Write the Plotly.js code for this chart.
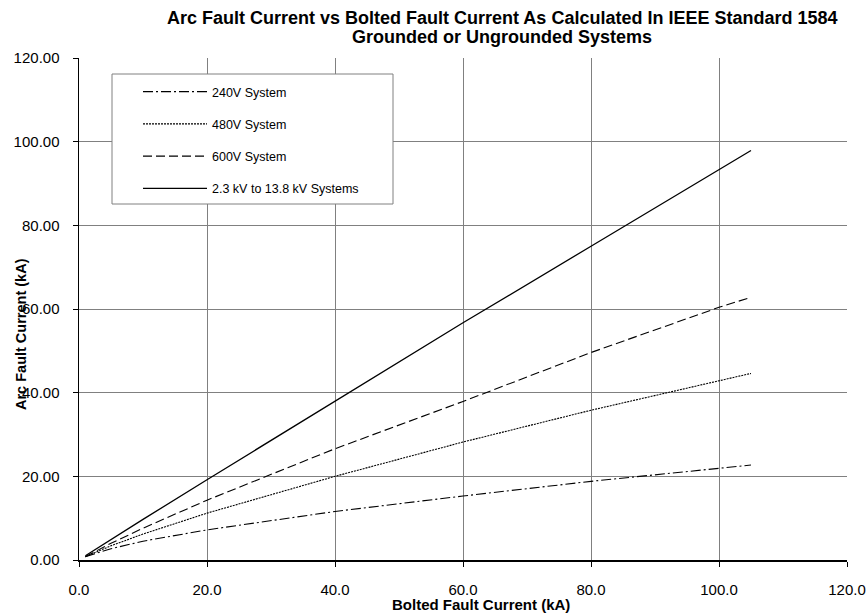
<!DOCTYPE html>
<html>
<head>
<meta charset="utf-8">
<script src="https://cdn.plot.ly/plotly-3.0.1.min.js"></script>
<style>html,body{margin:0;padding:0;background:#fff;}#chart{width:868px;height:613px;}</style>
</head>
<body>
<div id="chart"></div>
<script>
// Bolted fault current (kA)
const boltedKA = [1, 5, 10, 20, 40, 60, 80, 100, 105];
// Arc fault current (kA)
const arc240V = [0.8, 2.7, 4.5, 7.2, 11.6, 15.3, 18.8, 21.9, 22.7];
const arc480V = [0.8, 3.4, 6.2, 11.2, 20.0, 28.2, 35.8, 42.8, 44.6];
const arc600V = [0.8, 4.0, 7.6, 14.3, 26.6, 37.9, 49.6, 60.4, 62.8];
const arcHV   = [1.0, 4.9, 9.7, 19.2, 37.9, 56.7, 75.0, 93.3, 97.9];
const seriesNames = ['240V System', '480V System', '600V System', '2.3 kV to 13.8 kV Systems'];
const xTicks = [0, 20, 40, 60, 80, 100, 120];
const yTicks = [0, 20, 40, 60, 80, 100, 120];
const titleLines = ['Arc Fault Current vs Bolted Fault Current As Calculated In IEEE Standard 1584',
                    'Grounded or Ungrounded Systems'];
const xTitle = 'Bolted Fault Current (kA)';
const yTitle = 'Arc Fault Current (kA)';

const FONT = 'Liberation Sans, Arial, sans-serif';
const dashes = ['10px,3px,2px,3px', '2px,1px', '9px,4px', 'solid'];
const widths = [1.1, 1.1, 1.1, 1.3];
const ys = [arc240V, arc480V, arc600V, arcHV];

const traces = ys.map((y, i) => ({
  type: 'scatter', mode: 'lines', x: boltedKA, y: y, name: seriesNames[i],
  legendgroup: 'g' + i,
  line: {color: '#000', width: widths[i], dash: dashes[i]},
  hoverinfo: 'skip'
}));

// pixel -> paper helpers (plot area: x 79..847, y 58..560)
const px = v => (v - 79) / 768;
const py = v => (560 - v) / 502;

const layout = {
  width: 868, height: 613,
  margin: {l: 79, r: 21, t: 58, b: 53},
  paper_bgcolor: '#fff', plot_bgcolor: '#fff',
  font: {family: FONT, color: '#000', size: 15},
  xaxis: {
    range: [0, 120], tickvals: xTicks, tickformat: '.1f',
    showgrid: true, gridcolor: '#808080', gridwidth: 1,
    showline: true, linecolor: '#000', linewidth: 1.5,
    ticks: 'outside', ticklen: 5, tickcolor: '#000',
    ticklabelstandoff: 10,
    zeroline: false, tickfont: {size: 15, family: FONT}
  },
  yaxis: {
    range: [0, 120], tickvals: yTicks, tickformat: '.2f',
    showgrid: true, gridcolor: '#808080', gridwidth: 1,
    showline: true, linecolor: '#000', linewidth: 1.5,
    ticks: 'outside', ticklen: 5, tickcolor: '#000',
    ticklabelstandoff: 10,
    zeroline: false, tickfont: {size: 15, family: FONT}
  },
  showlegend: true,
  legend: {
    x: px(138), xanchor: 'left',
    y: py(77), yanchor: 'top',
    bgcolor: 'rgba(0,0,0,0)', borderwidth: 0,
    font: {size: 12.5, family: FONT},
    itemwidth: 64, traceorder: 'grouped', tracegroupgap: 13
  },
  shapes: [{
    type: 'rect', xref: 'paper', yref: 'paper', layer: 'above',
    x0: px(112), x1: px(393), y0: py(204), y1: py(74),
    line: {color: '#808080', width: 1}, fillcolor: '#fff'
  }],
  annotations: [
    {text: '<b>' + titleLines[0] + '</b>', xref: 'paper', yref: 'paper',
     x: px(502), y: py(18), xanchor: 'center', yanchor: 'middle', showarrow: false,
     font: {size: 18, family: FONT, color: '#000'}},
    {text: '<b>' + titleLines[1] + '</b>', xref: 'paper', yref: 'paper',
     x: px(502), y: py(37), xanchor: 'center', yanchor: 'middle', showarrow: false,
     font: {size: 18, family: FONT, color: '#000'}},
    {text: '<b>' + xTitle + '</b>', xref: 'paper', yref: 'paper',
     x: px(481), y: py(604), xanchor: 'center', yanchor: 'middle', showarrow: false,
     font: {size: 15, family: FONT, color: '#000'}},
    {text: '<b>' + yTitle + '</b>', textangle: -90, xref: 'paper', yref: 'paper',
     x: px(21), y: py(334), xanchor: 'center', yanchor: 'middle', showarrow: false,
     font: {size: 14.5, family: FONT, color: '#000'}}
  ]
};

Plotly.newPlot('chart', traces, layout, {displayModeBar: false, staticPlot: true});
</script>
</body>
</html>
